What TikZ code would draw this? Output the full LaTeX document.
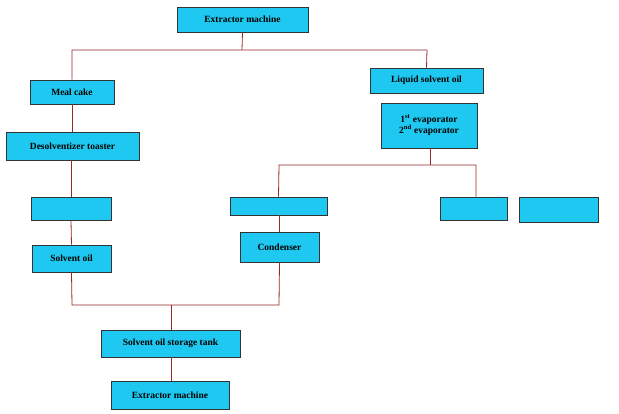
\documentclass[tikz,border=0pt]{standalone}
\usepackage{fontspec}
\setmainfont{Liberation Serif}
\definecolor{boxc}{RGB}{30,200,240}
\definecolor{lnc}{RGB}{150,40,40}
\begin{document}
\begin{tikzpicture}[x=1pt,y=-1pt,
  box/.style={draw=black!80,fill=boxc,line width=0.6pt,font=\bfseries\fontsize{9.5}{11}\selectfont,inner sep=0pt,align=center},
  ln/.style={draw=lnc,line width=0.8pt}]
\useasboundingbox (0,0) rectangle (619,413);
\fill[white] (0,0) rectangle (619,413);
\newcommand\bx[6]{\node[box,minimum width=#4-#2,minimum height=#5-#3] (#1) at ({(#2+#4)/2},{(#3+#5)/2}) {#6};}
\bx{ext}{177}{7}{308}{32}{Extractor machine}
\bx{meal}{30}{80}{114}{104}{Meal cake}
\bx{liq}{370}{68}{483}{93}{Liquid solvent oil}
\bx{evap}{381}{103}{477}{148}{1\textsuperscript{st} evaporator\\2\textsuperscript{nd} evaporator}
\bx{des}{6}{132}{139}{160}{Desolventizer toaster}
\bx{lb}{31}{197}{111}{220}{}
\bx{so}{32}{245}{111}{272}{Solvent oil}
\bx{mb}{230}{197}{327}{215}{}
\bx{cond}{240}{232}{319}{262}{Condenser}
\bx{r1}{440}{197}{507}{220}{}
\bx{r2}{519}{197}{598}{222}{}
\bx{tank}{101}{330}{240}{357}{Solvent oil storage tank}
\bx{ext2}{111}{381}{229}{409}{Extractor machine}
\coordinate (j1) at (242,50);
\draw[ln] (ext.south) -- (j1);
\draw[ln] (meal.north) -- (72,50) -- (427,50) -- (liq.north);
\draw[ln] (meal.south) -- (des.north -| meal.south);
\draw[ln] (des.south -| lb.north) -- (lb.north);
\draw[ln] (lb.south) -- (so.north);
\draw[ln] (evap.south -| 430,0) -- (430,165);
\draw[ln] (mb.north) -- (279,165) -- (476,165) -- (r1.north -| 476,0);
\draw[ln] (mb.south -| cond.north) -- (cond.north);
\draw[ln] (so.south) -- (72,305) -- (279,305) -- (cond.south);
\draw[ln] (171,305) -- (tank.north -| 171,0);
\draw[ln] (tank.south -| 171,0) -- (ext2.north -| 171,0);
\end{tikzpicture}
\end{document}
